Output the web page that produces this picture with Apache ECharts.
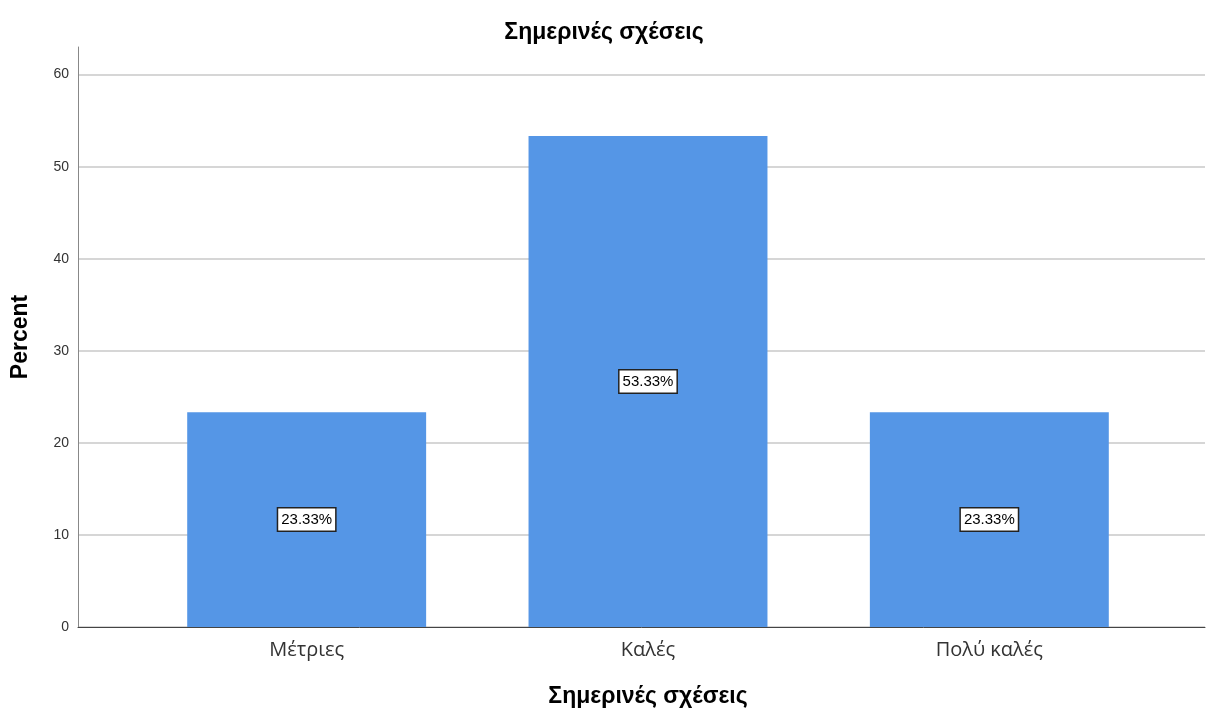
<!DOCTYPE html>
<html><head><meta charset="utf-8">
<script src="https://cdn.jsdelivr.net/npm/echarts@6/dist/echarts.min.js"></script>
<style>html,body{margin:0;padding:0;background:#fff}#c{width:1208px;height:711px}</style>
</head><body><div id="c"></div>
<script>
const categories = ['Μέτριες', 'Καλές', 'Πολύ καλές'];
const percents = [23.33, 53.33, 23.33];
const chartTitle = 'Σημερινές σχέσεις';
const yName = 'Percent';

const chart = echarts.init(document.getElementById('c'));
const tickFont = 'Liberation Sans, Arial, sans-serif';
chart.setOption({
  animation: false,
  backgroundColor: '#fff',
  title: { text: chartTitle, left: 'center', top: 16,
    textStyle: { fontFamily: tickFont, fontSize: 23, fontWeight: 'bold', color: '#000' } },
  grid: [
    { left: 78, right: 3, top: 47, bottom: 84, outerBoundsMode: 'none', containLabel: false },
    { left: 136, right: 48, top: 47, bottom: 84, outerBoundsMode: 'none', containLabel: false }
  ],
  xAxis: [
    { gridIndex: 0, type: 'value', min: 0, max: 1,
      axisLine: { show: true, lineStyle: { color: '#444', width: 1 } },
      axisTick: { show: false }, axisLabel: { show: false }, splitLine: { show: false } },
    { gridIndex: 1, type: 'category', data: categories,
      axisLine: { show: false }, axisTick: { show: false },
      axisLabel: { fontFamily: 'Open Sans, sans-serif', fontSize: 20, color: '#333', margin: 13 },
      name: chartTitle, nameLocation: 'middle', nameGap: 58,
      nameTextStyle: { fontFamily: tickFont, fontSize: 23, fontWeight: 'bold', color: '#000' } }
  ],
  yAxis: [
    { gridIndex: 0, type: 'value', min: 0, max: 63, interval: 10,
      axisLine: { show: true, lineStyle: { color: '#888', width: 1 } },
      axisTick: { show: false },
      axisLabel: { fontFamily: tickFont, fontSize: 14, color: '#333', showMaxLabel: false, margin: 9 },
      splitLine: { show: true, showMaxLine: false, lineStyle: { color: '#c8c8c8', width: 1.5 } },
      name: yName, nameLocation: 'middle', nameGap: 46,
      nameTextStyle: { fontFamily: tickFont, fontSize: 23, fontWeight: 'bold', color: '#000' } },
    { gridIndex: 1, type: 'value', min: 0, max: 63, show: false, splitLine: { show: false } }
  ],
  series: [{
    type: 'bar', xAxisIndex: 1, yAxisIndex: 1, data: percents, barWidth: '70%',
    itemStyle: { color: '#5596e6' },
    label: { show: true, position: 'inside', formatter: p => p.value.toFixed(2) + '%',
      fontFamily: tickFont, fontSize: 15, color: '#000', backgroundColor: '#fff',
      borderColor: '#222', borderWidth: 1.5, padding: [4, 3, 3, 3] }
  }]
});
</script></body></html>
